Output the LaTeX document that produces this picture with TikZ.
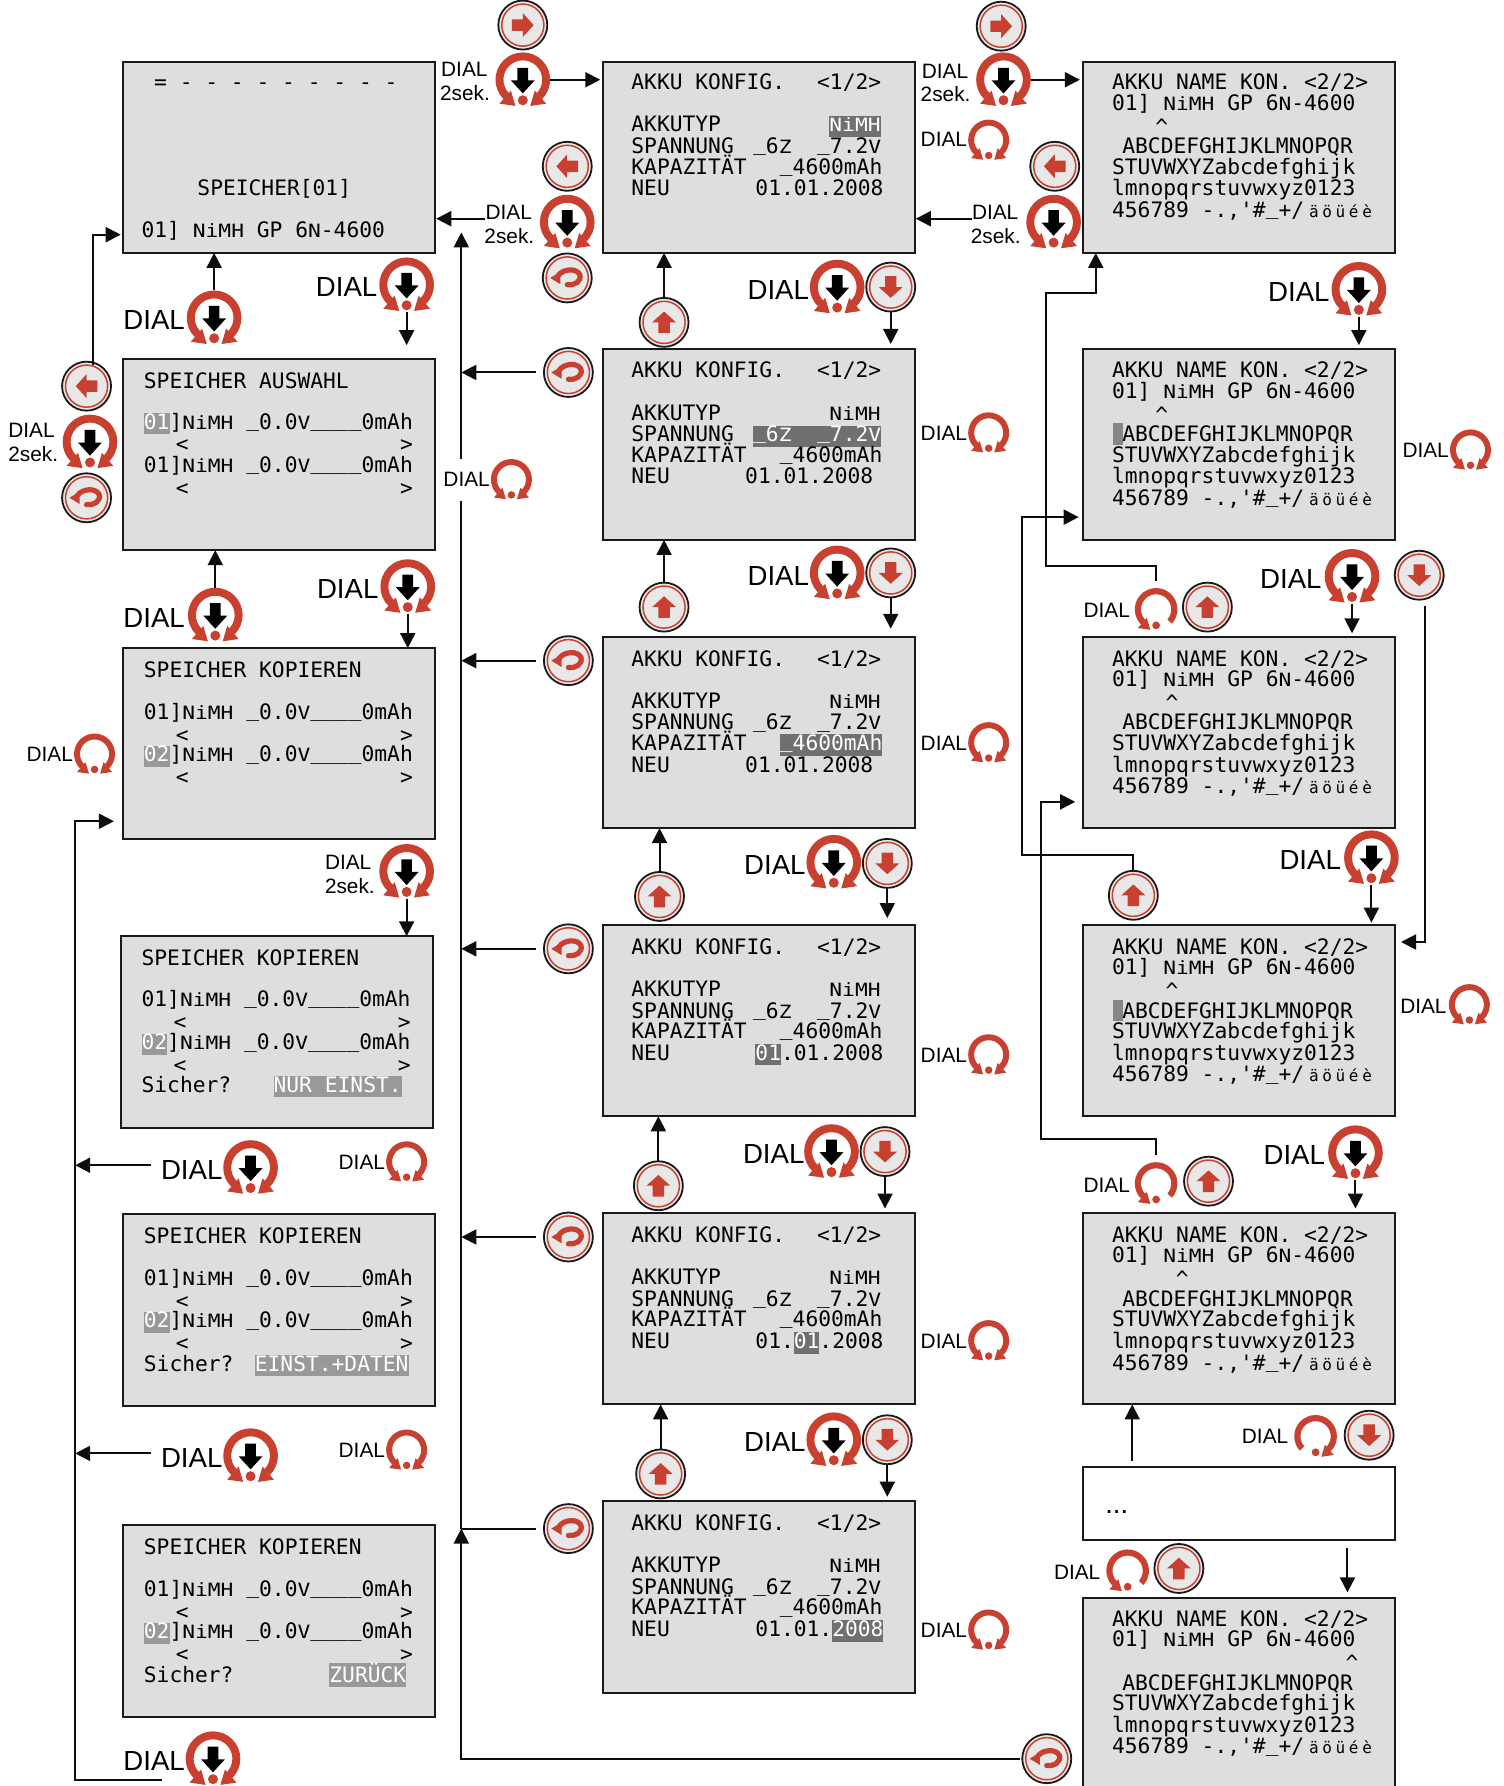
\documentclass[tikz,border=0pt]{standalone}
\usepackage{fontspec}
\usepackage{graphicx}
\usetikzlibrary{arrows.meta,calc}
\setmainfont{Liberation Sans}
\newfontfamily\lcdf{DejaVu Sans Mono}
\definecolor{dred}{HTML}{C8402F}
\definecolor{scrfill}{HTML}{DEDEDE}
\definecolor{hlgray}{HTML}{999999}
\definecolor{hldark}{HTML}{707070}
\definecolor{btnfill}{HTML}{E8E8E8}
\def\uu{0.5693pt}
\newcounter{tn}
\newlength\umw \setlength\umw{6.66pt}
\newcommand\sq[1]{\scalebox{1}[0.86]{#1}}
\newcommand\us{\raisebox{0.13em}{\_}}
\newcommand\hlg[1]{{\setlength\fboxsep{0pt}\colorbox{hlgray}{\textcolor{white}{\rule[-.24em]{0pt}{1em}#1}}}}
\newcommand\hld[1]{{\setlength\fboxsep{0pt}\colorbox{hldark}{\textcolor{white}{\rule[-.24em]{0pt}{1em}#1}}}}
\newcommand\nimh{\sq{NiMH}}
\newcommand\umlt{\hspace{1.5pt}{\fontsize{8}{9}\selectfont\makebox[\umw]{ä}\makebox[\umw]{ö}\makebox[\umw]{ü}\makebox[\umw]{é}\makebox[\umw]{è}}}
\tikzset{
  scr/.style={draw=black!90,fill=scrfill,line width=1pt,inner sep=0pt,outer sep=0pt,anchor=north west,minimum width=274*\uu,minimum height=168*\uu},
  lcdtext/.style={inner sep=0pt,font={\lcdf\fontsize{10.63}{12}\selectfont\frenchspacing}},
  labM/.style={inner sep=0pt,anchor=base west,font=\fontsize{10.4}{12}\selectfont},
  labL/.style={inner sep=0pt,anchor=base west,font=\fontsize{13.8}{15}\selectfont},
  hit/.style={circle,inner sep=0pt,outer sep=0pt},
  btnc/.style={circle,draw=black!90,fill=btnfill,inner sep=0pt,outer sep=0pt,line width=0.9pt,minimum size=43*\uu},
  arr/.style={line width=1pt,draw=black!95,-{Triangle[length=7.5pt,width=7.5pt]}},
  lin/.style={line width=1pt,draw=black!95},
  sh/.style={shorten >=#1*\uu},
  sb/.style={shorten <=#1*\uu},
}
% text helpers: x, y of the text centre
\newcommand\lcd[3]{\stepcounter{tn}\node[lcdtext,anchor=base west] (t\thetn) at (#1,#2+6.8) {#3};}
\newcommand\lcdR[3]{\stepcounter{tn}\node[lcdtext,anchor=base east] (t\thetn) at (#1,#2+6.8) {#3};}
\newcommand\labm[3]{\stepcounter{tn}\node[labM] (t\thetn) at (#1,#2+6.5) {#3};}
\newcommand\labl[3]{\stepcounter{tn}\node[labL] (t\thetn) at (#1,#2+8.7) {#3};}
% icons
\newcommand\icon[5]{\node[hit,minimum size=#4*48*\uu] (#1) at (#2,#3) {};
  \begin{scope}[shift={(#2,#3)},x=#4*\uu,y=#4*\uu] #5 \end{scope}}
\newcommand\ringarc[2]{\fill[dred] (#1:24) arc (#1:#2:24) -- (#2:17) arc (#2:#1:17) -- cycle;}
\newcommand\headL{\fill[dred] (-20.5,-21) -- (-6.5,-23) -- (-10.5,-9.5) -- cycle;}
\newcommand\headR{\fill[dred] (20.5,-21) -- (6.5,-23) -- (10.5,-9.5) -- cycle;}
\newcommand\dott{\fill[dred] (0,-18) circle (4.4);}
\newcommand\ringB{\ringarc{-45}{225}\headL\headR\dott}
\newcommand\ringLo{\ringarc{-42}{225}\headL\dott}
\newcommand\ringRo{\ringarc{-45}{222}\headR\dott}
\newcommand\blackdown{\fill[black] (-4.7,10.5) -- (4.7,10.5) -- (4.7,-0.5) -- (10.5,-0.5) -- (0,-12) -- (-10.5,-0.5) -- (-4.7,-0.5) -- cycle;}
\newcommand\dialP[3]{\icon{#1}{#2}{#3}{1}{\ringB\blackdown}}
\newcommand\dialS[3]{\icon{#1}{#2}{#3}{0.75}{\ringB}}
\newcommand\dialU[3]{\icon{#1}{#2}{#3}{0.78}{\ringLo}}
\newcommand\dialD[3]{\icon{#1}{#2}{#3}{0.78}{\ringRo}}
\newcommand\glyphUp{\fill[dred] (0,9.5) -- (10.5,0) -- (5,0) -- (5,-9.5) -- (-5,-9.5) -- (-5,0) -- (-10.5,0) -- cycle;}
\newcommand\glyphDn{\fill[dred] (0,-9.5) -- (10.5,0) -- (5,0) -- (5,9.5) -- (-5,9.5) -- (-5,0) -- (-10.5,0) -- cycle;}
\newcommand\glyphLf{\fill[dred] (-9.5,0) -- (0,10.5) -- (0,5) -- (9.5,5) -- (9.5,-5) -- (0,-5) -- (0,-10.5) -- cycle;}
\newcommand\glyphRt{\fill[dred] (9.5,0) -- (0,10.5) -- (0,5) -- (-9.5,5) -- (-9.5,-5) -- (0,-5) -- (0,-10.5) -- cycle;}
\newcommand\glyphRe{\draw[dred,line width=2.6pt,line cap=round] (-8,2) .. controls (-4,8) and (8,9) .. (11,3) .. controls (13,-3) and (6,-7) .. (0,-6);
  \fill[dred] (-15,0) -- (-6,5.5) -- (-6,-5.5) -- cycle;}
\newcommand\btn[4]{\node[btnc] (#1) at (#2,#3) {};
  \begin{scope}[shift={(#2,#3)},x=\uu,y=\uu] \draw[dred,line width=0.75pt] (0,0) circle (18.5); #4 \end{scope}}
% screens
\newcommand\screen[3]{\node[scr] (#1) at (#2,#3) {};}
\newcommand\memrow[3]{\lcd{#1}{#2}{#3}\lcd{#1+28}{#2+20}{<}\lcd{#1+225}{#2+20}{>}}
% name, box top, text top, type, spannung, kapazitaet, date right edge, date
\newcommand\mscr[8]{\screen{#1}{529}{#2}
  \lcd{554}{#3+18}{AKKU~KONFIG.}\lcdR{774}{#3+18}{<1/2>}
  \lcd{554}{#3+55}{AKKUTYP}\lcdR{773.5}{#3+55}{#4}
  \lcd{554}{#3+74}{SPANNUNG}\lcdR{774}{#3+74}{#5}
  \lcd{554}{#3+92}{KAPAZITÄT}\lcdR{775}{#3+92}{#6}
  \lcd{554}{#3+111}{NEU}\lcdR{#7}{#3+111}{#8}}
% name, box top, text top, caret x, first letter line
\newcommand\rscr[5]{\screen{#1}{951}{#2}
  \lcd{976}{#3+18}{AKKU~NAME~KON.~<2/2>}
  \lcd{976}{#3+36}{01]~\nimh{}~GP~6\sq{N}-4600}
  \lcd{#4}{#3+57}{\textasciicircum}
  #5
  \lcd{985}{#3+74}{ABCDEFGHIJKLMNOPQR}
  \lcd{976}{#3+92}{STUVWXYZabcdefghijk}
  \lcd{976}{#3+111}{lmnopqrstuvwxyz0123}
  \lcd{976}{#3+130}{456789~-.,'\#\us+/\umlt}}
\newcommand\cursor[1]{\fill[hldark!85] (977,#1+64.5) rectangle (986,#1+83.5);}
\newcommand\znim[1]{#1]\nimh{}~\us{}0.0\sq{V}\us\us\us\us{}0mAh}
\newcommand\spn{\us{}6\sq{Z}~~\us{}7.2\sq{V}}
\newcommand\kap{\us{}4600mAh}
\begin{document}
\begin{tikzpicture}[x=0.5693pt,y=-0.5693pt]
\useasboundingbox (0,0) rectangle (1320,1568);
% ---------- left column
\screen{sLa}{108}{54}
\lcd{135}{72}{=~-~-~-~-~-~-~-~-~-}
\lcd{173}{165}{SPEICHER[01]}
\lcd{124}{202}{01]~\nimh{}~GP~6\sq{N}-4600}
\screen{sLb}{108}{315}
\lcd{126}{334}{SPEICHER~AUSWAHL}
\memrow{126}{370}{\znim{\hlg{01}}}
\memrow{126}{408}{\znim{01}}
\screen{sLc}{108}{569}
\lcd{126}{588}{SPEICHER~KOPIEREN}
\memrow{126}{625}{\znim{01}}
\memrow{126}{662}{\znim{\hlg{02}}}
\screen{sLd}{106}{822}
\lcd{124}{841}{SPEICHER~KOPIEREN}
\memrow{124}{877}{\znim{01}}
\memrow{124}{915}{\znim{\hlg{02}}}
\lcd{124}{952}{Sicher?}\lcdR{353}{952}{\hlg{NUR~EINST.}}
\screen{sLe}{108}{1066}
\lcd{126}{1085}{SPEICHER~KOPIEREN}
\memrow{126}{1122}{\znim{01}}
\memrow{126}{1159}{\znim{\hlg{02}}}
\lcd{126}{1197}{Sicher?}\lcdR{359}{1197}{\hlg{EINST.+DATEN}}
\screen{sLf}{108}{1339}
\lcd{126}{1358}{SPEICHER~KOPIEREN}
\memrow{126}{1395}{\znim{01}}
\memrow{126}{1432}{\znim{\hlg{02}}}
\lcd{126}{1470}{Sicher?}\lcdR{357}{1470}{\hlg{ZURÜCK}}
% ---------- middle column
\mscr{sMa}{54}{54}{\hld{\nimh}}{\spn}{\kap}{776}{01.01.2008}
\mscr{sMb}{306}{307}{\nimh}{\hld{\spn}}{\kap}{767}{01.01.2008}
\mscr{sMc}{559}{560}{\nimh}{\spn}{\hld{\kap}}{767}{01.01.2008}
\mscr{sMd}{812}{813}{\nimh}{\spn}{\kap}{776}{\hld{01}.01.2008}
\mscr{sMe}{1065}{1066}{\nimh}{\spn}{\kap}{776}{01.\hld{01}.2008}
\mscr{sMf}{1318}{1319}{\nimh}{\spn}{\kap}{776}{01.01.\hld{2008}}
% ---------- right column
\rscr{sRa}{54}{54}{1014}{}
\rscr{sRb}{306}{307}{1014}{\cursor{307}}
\rscr{sRc}{559}{560}{1023}{}
\rscr{sRd}{812}{813}{1023}{\cursor{813}}
\rscr{sRe}{1065}{1066}{1032}{}
\node[draw=black!90,fill=white,line width=1pt,inner sep=0pt,outer sep=0pt,anchor=north west,minimum width=274*\uu,minimum height=64*\uu] (sRf) at (951,1288) {};
\labl{970}{1320}{...}
\rscr{sRg}{1403}{1403}{1181}{}
% ---------- top row icons
\btn{bTa}{459}{22}{\glyphRt}
\dialP{dTa}{459}{70}
\labm{387}{61}{DIAL}\labm{386}{82}{2sek.}
\btn{bTb}{879}{23}{\glyphRt}
\dialP{dTb}{881}{70}
\labm{809}{62}{DIAL}\labm{808}{83}{2sek.}
\labm{808}{122}{DIAL}\dialS{dTc}{868}{123}
\btn{bSa}{498}{146}{\glyphLf}
\dialP{dSa}{498}{195}
\labm{426}{186}{DIAL}\labm{425}{207}{2sek.}
\btn{bSb}{498}{244}{\glyphRe}
\btn{bSc}{926}{146}{\glyphLf}
\dialP{dSc}{925}{195}
\labm{853}{186}{DIAL}\labm{852}{207}{2sek.}
% ---------- left side icons
\dialP{dLa}{188}{279}\labl{108}{281}{DIAL}
\dialP{dLb}{357}{250}\labl{277}{252}{DIAL}
\btn{bLa}{76}{339}{\glyphLf}
\dialP{dLc}{79}{388}
\labm{7}{378}{DIAL}\labm{7}{399}{2sek.}
\btn{bLb}{76}{437}{\glyphRe}
\labm{389}{421}{DIAL}\dialS{dLd}{449}{421}
\dialP{dLe}{189}{540}\labl{108}{542}{DIAL}
\dialP{dLf}{358}{515}\labl{278}{517}{DIAL}
\labm{23}{662}{DIAL}\dialS{dLg}{83}{662}
\dialP{dLh}{357}{765}
\labm{285}{757}{DIAL}\labm{285}{778}{2sek.}
\dialP{dLi}{220}{1025}\labl{141}{1027}{DIAL}
\labm{297}{1020}{DIAL}\dialS{dLj}{357}{1020}
\dialP{dLk}{220}{1278}\labl{141}{1280}{DIAL}
\labm{297}{1273}{DIAL}\dialS{dLl}{357}{1273}
\dialP{dLm}{187}{1544}\labl{108}{1546}{DIAL}
% ---------- middle icons
\foreach \nm/\yy in {a/327,b/580,c/833,d/1086,e/1342}{\btn{bRet\nm}{499}{\yy}{\glyphRe}}
\btn{bUa}{583}{283}{\glyphUp}
\dialP{dMa}{735}{252}\labl{656}{254}{DIAL}\btn{bDa}{782}{252}{\glyphDn}
\btn{bUb}{583}{533}{\glyphUp}
\dialP{dMb}{735}{503}\labl{656}{505}{DIAL}\btn{bDb}{782}{503}{\glyphDn}
\btn{bUc}{579}{787}{\glyphUp}
\dialP{dMc}{732}{757}\labl{653}{759}{DIAL}\btn{bDc}{779}{758}{\glyphDn}
\btn{bUd}{578}{1041}{\glyphUp}
\dialP{dMd}{730}{1011}\labl{652}{1013}{DIAL}\btn{bDd}{777}{1011}{\glyphDn}
\btn{bUe}{580}{1294}{\glyphUp}
\dialP{dMe}{732}{1264}\labl{653}{1266}{DIAL}\btn{bDe}{779}{1264}{\glyphDn}
\labm{808}{380}{DIAL}\dialS{dSa1}{868}{380}
\labm{808}{652}{DIAL}\dialS{dSa2}{868}{652}
\labm{808}{926}{DIAL}\dialS{dSa3}{868}{926}
\labm{808}{1177}{DIAL}\dialS{dSa4}{868}{1177}
\labm{808}{1431}{DIAL}\dialS{dSa5}{868}{1431}
% ---------- right icons
\dialP{dRa}{1193}{254}\labl{1113}{256}{DIAL}
\labm{1231}{395}{DIAL}\dialS{dRb}{1291}{395}
\labm{951}{536}{DIAL}\dialU{dRc}{1015}{535}\btn{bRc}{1060}{533}{\glyphUp}
\dialP{dRd}{1187}{506}\labl{1106}{508}{DIAL}
\btn{bRd}{1246}{505}{\glyphDn}
\dialP{dRe}{1204}{753}\labl{1123}{755}{DIAL}
\btn{bRe}{995}{786}{\glyphUp}
\labm{1229}{883}{DIAL}\dialS{dRf}{1290}{882}
\labm{951}{1040}{DIAL}\dialU{dRg}{1015}{1039}\btn{bRg}{1061}{1037}{\glyphUp}
\dialP{dRh}{1190}{1012}\labl{1109}{1014}{DIAL}
\labm{1090}{1261}{DIAL}\dialD{dRi}{1155}{1261}\btn{bRi}{1202}{1260}{\glyphDn}
\labm{925}{1380}{DIAL}\dialU{dRj}{990}{1379}\btn{bRj}{1035}{1377}{\glyphUp}
\btn{bRk}{919}{1544}{\glyphRe}
% ---------- free ends of connectors
\coordinate (fSa) at (426,192);
\coordinate (fSc) at (853,192);
\coordinate (busTop) at (405,204);
\coordinate (busT) at (405,403);
\coordinate (busM) at (405,440);
\coordinate (busE) at (405,1342);
\coordinate (fLa) at (82,320);
\coordinate (wLa) at (106,206);
\coordinate (loopS) at (142,1563);
\coordinate (loopX) at (66,721);
\coordinate (loopE) at (100,721);
\coordinate (fLi) at (133,1023);
\coordinate (fLk) at (133,1276);
\coordinate (wRc) at (918,497);
\coordinate (wRc2) at (962,257);
\coordinate (wRe) at (897,751);
\coordinate (eRe) at (947,454);
\coordinate (wRg) at (914,1000);
\coordinate (eRg) at (944,704);
\coordinate (fRd) at (1251,532);
\coordinate (eRd) at (1230,827);
\coordinate (fRf) at (994,1283);
\coordinate (fRh) at (1183,1359);
% ---------- connectors
\draw[arr,sh=2] (dTa.east) -- (dTa.east -| sMa.west);
\draw[arr,sh=3] (dTb.east) -- (dTb.east -| sRa.west);
\draw[arr,sh=1] (fSa) -- (fSa -| sLa.east);
\draw[arr,sh=1] (fSc) -- (fSc -| sMa.east);
\draw[arr] (dLa.north) -- (dLa.north |- sLa.south);
\draw[arr,sh=12] (dLb.south) -- (dLb.south |- sLb.north);
\draw[arr] (dLe.north) -- (dLe.north |- sLb.south);
\draw[arr] (dLf.south) -- (dLf.south |- sLc.north);
\draw[arr] (dLh.south) -- (dLh.south |- sLd.north);
\draw[arr] (fLa) |- (wLa);
\draw[arr] (loopS) -| (loopX) -- (loopE);
\draw[arr] (fLi) -- (fLi -| loopX);
\draw[arr] (fLk) -- (fLk -| loopX);
\draw[arr] (busT) -- (busTop);
\draw[lin] (busM) -- (busE);
\draw[arr,sb=7] (bReta.west) -- (bReta.west -| busT);
\draw[arr,sb=7] (bRetb.west) -- (bRetb.west -| busT);
\draw[arr,sb=7] (bRetc.west) -- (bRetc.west -| busT);
\draw[arr,sb=7] (bRetd.west) -- (bRetd.west -| busT);
\draw[lin,sb=7] (bRete.west) -- (bRete.west -| busT);
\draw[arr,sb=2] (bRk.west) -| (busE);
\draw[arr] (bUa.north) -- (bUa.north |- sMa.south);
\draw[arr] (bUb.north) -- (bUb.north |- sMb.south);
\draw[arr] (bUc.north) -- (bUc.north |- sMc.south);
\draw[arr] (bUd.north) -- (bUd.north |- sMd.south);
\draw[arr] (bUe.north) -- (bUe.north |- sMe.south);
\draw[arr,sh=4] (bDa.south) -- (bDa.south |- sMb.north);
\draw[arr,sh=7] (bDb.south) -- (bDb.south |- sMc.north);
\draw[arr,sh=6] (bDc.south) -- (bDc.south |- sMd.north);
\draw[arr,sh=4] (bDd.south) -- (bDd.south |- sMe.north);
\draw[arr,sh=4] (bDe.south) -- (bDe.south |- sMf.north);
\draw[arr,sh=3] (dRa.south) -- (dRa.south |- sRb.north);
\draw[arr,sh=3] (dRd.south) -- (dRd.south |- sRc.north);
\draw[arr,sh=2] (dRe.south) -- (dRe.south |- sRd.north);
\draw[arr,sh=4] (dRh.south) -- (dRh.south |- sRe.north);
\draw[arr,sb=6] (dRc.north) |- (wRc) |- (wRc2) -- (wRc2 |- sRa.south);
\draw[arr] (bRe.north) |- (wRe) |- (eRe);
\draw[arr,sb=6] (dRg.north) |- (wRg) |- (eRg);
\draw[arr] (fRd) |- (eRd);
\draw[arr] (fRf) -- (fRf |- sRe.south);
\draw[arr,sh=5] (fRh) -- (fRh |- sRg.north);
\end{tikzpicture}
\end{document}
